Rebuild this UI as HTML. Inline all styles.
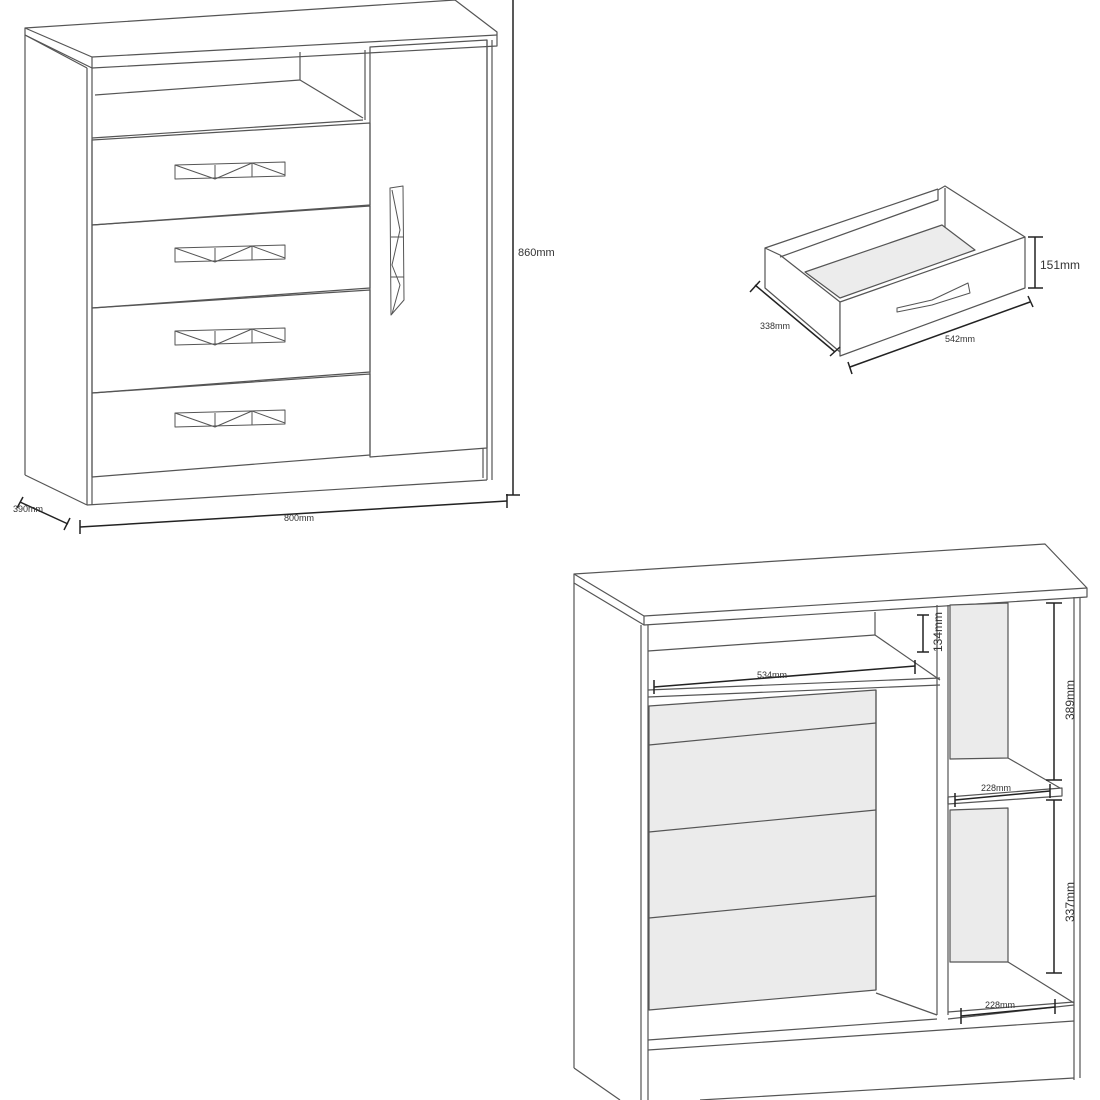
<!DOCTYPE html>
<html><head><meta charset="utf-8"><style>
html,body{margin:0;padding:0;background:#fff;}
svg{display:block;}
text{font-family:"Liberation Sans",sans-serif;fill:#333;}
</style></head><body>
<svg width="1100" height="1100" viewBox="0 0 1100 1100" xmlns="http://www.w3.org/2000/svg">
<g fill="none" stroke="#555" stroke-width="1.2" stroke-linejoin="round">
<!-- ===== Cabinet 1 ===== -->
<polygon points="25,28 455,0 497,32 497,46 92,68 25,35" fill="#fff"/>
<line x1="25" y1="28" x2="92" y2="57"/>
<line x1="92" y1="57" x2="497" y2="35"/>
<line x1="92" y1="57" x2="92" y2="68"/>
<line x1="25" y1="35" x2="87" y2="68"/>
<line x1="25" y1="35" x2="25" y2="475"/>
<line x1="25" y1="475" x2="87" y2="505"/>
<line x1="87" y1="68" x2="87" y2="505"/>
<line x1="92" y1="68" x2="92" y2="505"/>
<line x1="87" y1="505" x2="487" y2="480"/>
<line x1="487" y1="40" x2="487" y2="480"/>
<line x1="492" y1="40" x2="492" y2="480"/>
<line x1="483" y1="448" x2="483" y2="478"/>
<!-- niche -->
<line x1="95" y1="95" x2="300" y2="80"/>
<line x1="300" y1="52" x2="300" y2="80"/>
<line x1="300" y1="80" x2="363" y2="118"/>
<line x1="92" y1="138" x2="363" y2="120"/>
<line x1="365" y1="50" x2="365" y2="120"/>
<!-- drawers -->
<polygon points="92,140 370,123 370,205 92,225"/>
<polygon points="92,225 370,206 370,288 92,308"/>
<polygon points="92,308 370,290 370,372 92,393"/>
<polygon points="92,393 370,374 370,455 92,477"/>
<!-- door -->
<polygon points="370,47 487,40 487,448 370,457"/>
<!-- handles -->
<g stroke-width="1">
<g id="h1"><polygon points="175,165 285,162 285,176 175,179"/><line x1="215" y1="165" x2="215" y2="179"/><line x1="252" y1="163" x2="252" y2="177"/><polyline points="175,165 215,179 252,163 285,175"/></g>
<use href="#h1" transform="translate(0,83)"/>
<use href="#h1" transform="translate(0,166)"/>
<use href="#h1" transform="translate(0,248)"/>
<polygon points="390,188 403,186 404,300 391,315"/>
<polyline points="392,190 400,230 392,265 400,285 392,314"/>
<line x1="391" y1="237" x2="404" y2="237"/><line x1="391" y1="277" x2="404" y2="277"/>
</g>
</g>
<!-- dims cabinet 1 -->
<g stroke="#222" stroke-width="1.5" fill="none">
<line x1="513" y1="0" x2="513" y2="495"/><line x1="506" y1="495" x2="520" y2="495"/>
<line x1="80" y1="527" x2="507" y2="501"/><line x1="80" y1="520" x2="80" y2="534"/><line x1="507" y1="494" x2="507" y2="508"/>
<line x1="20" y1="502" x2="68" y2="524"/><line x1="17" y1="508" x2="23" y2="497"/><line x1="64" y1="530" x2="70" y2="518"/>
</g>
<text x="518" y="256" font-size="11">860mm</text>
<text x="284" y="521" font-size="9">800mm</text>
<text x="13" y="512" font-size="9">390mm</text>

<!-- ===== Drawer ===== -->
<g fill="none" stroke="#555" stroke-width="1.2" stroke-linejoin="round">
<polygon points="765,248 780,255 840,302 840,352 765,288"/>
<polyline points="780,257 938,200 938,190 945,186 1025,237"/>
<line x1="765" y1="248" x2="938" y2="189"/>
<line x1="945" y1="188" x2="945" y2="228"/>
<polygon points="805,272 942,225 975,250 840,298" fill="#ececec"/>
<polygon points="840,302 1025,237 1025,288 840,356" fill="#fff"/>
<polygon points="897,308 932,300 968,283 970,293 932,305 897,312" stroke-width="1"/>
</g>
<g stroke="#222" stroke-width="1.5">
<line x1="1035" y1="237" x2="1035" y2="288"/><line x1="1028" y1="237" x2="1043" y2="237"/><line x1="1028" y1="288" x2="1043" y2="288"/>
<line x1="850" y1="367" x2="1030" y2="302"/><line x1="848" y1="362" x2="852" y2="374"/><line x1="1028" y1="296" x2="1033" y2="307"/>
<line x1="755" y1="285" x2="835" y2="352"/><line x1="750" y1="292" x2="760" y2="281"/><line x1="830" y1="356" x2="840" y2="347"/>
</g>
<text x="1040" y="269" font-size="12">151mm</text>
<text x="945" y="342" font-size="9">542mm</text>
<text x="760" y="329" font-size="9">338mm</text>

<!-- ===== Cabinet 2 ===== -->
<g fill="none" stroke="#555" stroke-width="1.2" stroke-linejoin="round">
<polygon points="574,574 1045,544 1087,588 1087,597 644,625 574,583"/>
<line x1="574" y1="574" x2="644" y2="616"/>
<line x1="644" y1="616" x2="1087" y2="588"/>
<line x1="644" y1="616" x2="644" y2="625"/>
<line x1="574" y1="583" x2="574" y2="1068"/>
<line x1="574" y1="1068" x2="620" y2="1100"/>
<line x1="641" y1="625" x2="641" y2="1100"/>
<line x1="648" y1="625" x2="648" y2="1100"/>
<line x1="1074" y1="597" x2="1074" y2="1080"/>
<line x1="1080" y1="597" x2="1080" y2="1078"/>
<line x1="648" y1="1050" x2="1074" y2="1021"/>
<line x1="648" y1="1040" x2="937" y2="1019"/>
<line x1="700" y1="1100" x2="1074" y2="1078"/>
<!-- upper niche -->
<line x1="648" y1="651" x2="875" y2="635"/>
<line x1="875" y1="612" x2="875" y2="635"/>
<line x1="875" y1="635" x2="940" y2="680"/>
<line x1="648" y1="690" x2="940" y2="678"/>
<line x1="648" y1="697" x2="940" y2="685"/>
<!-- divider -->
<line x1="937" y1="605" x2="937" y2="1015"/>
<line x1="948" y1="605" x2="948" y2="1015"/>
<!-- gray drawers -->
<polygon points="649,706 876,690 876,990 649,1010" fill="#ebebeb"/>
<line x1="649" y1="745" x2="876" y2="723"/>
<line x1="649" y1="832" x2="876" y2="810"/>
<line x1="649" y1="918" x2="876" y2="896"/>
<line x1="876" y1="690" x2="876" y2="990"/>
<line x1="876" y1="993" x2="937" y2="1015"/>
<!-- right compartments -->
<polygon points="950,605 1008,603 1008,758 950,759" fill="#ebebeb"/>
<line x1="1008" y1="758" x2="1060" y2="788"/>
<polygon points="948,797 1062,788 1062,796 948,804"/>
<polygon points="950,810 1008,808 1008,962 950,962" fill="#ebebeb"/>
<line x1="1008" y1="962" x2="1074" y2="1003"/>
<line x1="948" y1="1019" x2="1074" y2="1005"/>
<line x1="948" y1="1012" x2="1074" y2="1002"/>
</g>
<g stroke="#222" stroke-width="1.5">
<line x1="654" y1="687" x2="915" y2="666"/><line x1="654" y1="680" x2="654" y2="694"/><line x1="915" y1="660" x2="915" y2="674"/>
<line x1="923" y1="615" x2="923" y2="652"/><line x1="917" y1="615" x2="929" y2="615"/><line x1="917" y1="652" x2="929" y2="652"/>
<line x1="1054" y1="603" x2="1054" y2="780"/><line x1="1046" y1="603" x2="1062" y2="603"/><line x1="1046" y1="780" x2="1062" y2="780"/>
<line x1="955" y1="800" x2="1050" y2="791"/><line x1="955" y1="793" x2="955" y2="807"/><line x1="1050" y1="784" x2="1050" y2="798"/>
<line x1="1054" y1="800" x2="1054" y2="973"/><line x1="1046" y1="800" x2="1062" y2="800"/><line x1="1046" y1="973" x2="1062" y2="973"/>
<line x1="961" y1="1016" x2="1055" y2="1007"/><line x1="961" y1="1008" x2="961" y2="1024"/><line x1="1055" y1="999" x2="1055" y2="1014"/>
</g>
<text x="757" y="678" font-size="9">534mm</text>
<text x="981" y="791" font-size="9">228mm</text>
<text x="985" y="1008" font-size="9">228mm</text>
<text font-size="12" transform="translate(942,652) rotate(-90)">134mm</text>
<text font-size="12" transform="translate(1074,720) rotate(-90)">389mm</text>
<text font-size="12" transform="translate(1074,922) rotate(-90)">337mm</text>
</svg>
</body></html>
